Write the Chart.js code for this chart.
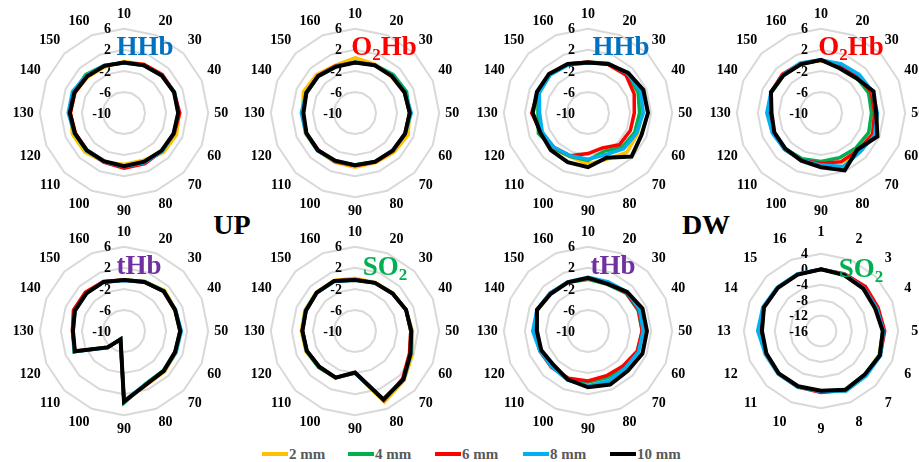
<!DOCTYPE html>
<html>
<head>
<meta charset="utf-8">
<script src="https://cdn.jsdelivr.net/npm/chart.js@4.4.0/dist/chart.umd.min.js"></script>
<style>
  html, body { margin: 0; padding: 0; background: #fff; width: 919px; height: 462px; overflow: hidden; font-family: "Liberation Serif", serif; }
  .panel { position: absolute; width: 232px; height: 214px; }
  .big { position: absolute; font-weight: bold; font-size: 28px; color: #000; transform: translate(-50%, -50%); line-height: 1; }
  .item { position: absolute; top: 445px; display: flex; align-items: center; font-weight: bold; font-size: 15px; color: #595959; height: 18px; }
  .item i { display: inline-block; width: 26px; height: 4px; margin-right: 1px; }
</style>
</head>
<body>
<div class="big" style="left:232px; top:225px;">UP</div>
<div class="big" style="left:706px; top:225px;">DW</div>
<script>
// spoke labels
const angleLabels = ['10', '20', '30', '40', '50', '60', '70', '80', '90', '100', '110', '120', '130', '140', '150', '160'];
const so2Labels = ['1', '2', '3', '4', '5', '6', '7', '8', '9', '10', '11', '12', '13', '14', '15', '16'];

// radial axis ranges (min, max, step)
const mainAxis = [-10, 6, 4];
const so2Axis = [-16, 4, 4];

const seriesNames = ['2 mm', '4 mm', '6 mm', '8 mm', '10 mm'];
const seriesColors = ['#FFC000', '#00B050', '#FF0000', '#00B0F0', '#000000'];

// UP - HHb
const upHHb2  = [-0.2, 0, 0.2, 0.3, 0.5, 0.8, 0.6, -0.3, -0.2, 0, 0.5, 0.6, 0.2, 0.1, -0.3, -0.5];
const upHHb4  = [-0.4, -0.2, 0.2, 0.4, 0.4, 0.3, 0.2, 0.1, 0.1, 0, 0.1, 0.1, 0.3, 0.3, 0.3, -0.2];
const upHHb6  = [-0.4, 0, 0.3, 0.3, 0.6, 0.3, 0.2, 0.4, 0.5, 0.1, 0, 0, 0.2, 0.1, -0.1, -0.3];
const upHHb8  = [-0.5, -0.2, 0.1, 0.3, 0.3, 0.2, 0.3, 0.2, 0.2, 0, 0.1, 0.2, 0.6, 0.6, 0.1, -0.2];
const upHHb10 = [-0.4, -0.2, 0.1, 0.3, 0.3, 0.2, 0.1, 0, 0.1, -0.1, 0, 0.1, 0.3, 0.2, -0.1, -0.3];

// UP - O2Hb
const upO2Hb2  = [0.5, 0, -0.2, 0.3, 0.4, 0.9, 0.5, 0.2, 0.3, 0.1, 0.1, 0.2, 0, 0.6, 0.3, -0.2];
const upO2Hb4  = [-0.3, -0.1, 0.3, 0.6, 0.4, 0.3, 0.2, 0, -0.1, -0.1, 0, 0, 0, 0.1, -0.1, -0.4];
const upO2Hb6  = [-0.4, -0.1, 0, 0.2, 0.4, 0.3, 0.2, 0.1, 0, 0, -0.1, 0, -0.1, 0, 0, -0.3];
const upO2Hb8  = [-0.4, -0.2, 0, 0.3, 0.7, 0.3, 0.1, 0, -0.1, -0.1, 0.1, 0.1, 0.2, 0, -0.1, -0.4];
const upO2Hb10 = [-0.4, -0.2, -0.1, 0.2, 0.4, 0.3, 0.1, 0, -0.1, -0.2, 0, 0, -0.2, 0, -0.1, -0.5];

// DW - HHb
const dwHHb2  = [-0.4, 0.1, 0.5, 0.6, 0.3, 0.2, 0.5, -0.5, -0.3, -1.0, -0.5, -0.3, -0.6, 0.2, 0.3, 0];
const dwHHb4  = [-0.3, 0.2, 0.5, 0.3, -0.2, -0.4, -0.8, -2.1, -1.0, -1.1, -0.6, 0.2, -0.5, 0.3, 0.3, 0];
const dwHHb6  = [-0.3, 0, 0.2, -0.5, -1.2, -1.3, -1.5, -2.8, -2.3, -1.2, -0.8, -0.4, 0.7, 0.3, 0.4, 0.1];
const dwHHb8  = [-0.5, 0.2, 0.6, 0.8, 0.5, 0, -0.4, -1.4, -1.2, -1.2, -0.8, -0.6, -0.8, 0, 0.2, -0.1];
const dwHHb10 = [-0.4, 0.1, 0.8, 1.4, 1.4, 1.0, 1.7, -0.8, 0.3, 0.1, 0, -0.2, 0.5, 0.5, 0.5, 0.1];

// DW - O2Hb
const dwO2Hb2  = [0, -0.6, -0.5, 0.3, 0.3, 0.5, 0.2, 0.2, -0.4, -0.5, -0.3, -0.2, -0.3, 0.2, 0.1, 0];
const dwO2Hb4  = [0, -0.4, -0.4, -0.2, -0.4, -0.2, -0.6, -0.8, -0.8, -0.6, -0.4, -0.3, -0.3, 0.2, 0.1, 0.1];
const dwO2Hb6  = [0, -0.3, -0.1, 0.3, 0.2, 0.6, 0, 0, -0.4, -0.3, -0.2, -0.2, -0.3, 0.3, 0.4, 0.2];
const dwO2Hb8  = [0.1, 0.1, 0.3, 0.6, 0.7, 1.0, 0.5, 1.0, -0.1, -0.3, -0.2, 0, 0.3, 0.3, 0.2, 0.3];
const dwO2Hb10 = [0.1, -0.8, -0.6, 0.8, 0.5, 1.6, -0.2, 1.8, 0.3, -0.2, -0.4, -0.4, -0.6, 0.3, 0.1, 0];

// UP - tHb
const upTHb2  = [-0.3, 0.2, 0.9, 0.6, 0.7, 0.7, 0.9, 1.1, 3.3, -8.3, -5.6, 0.1, -0.2, 0.3, 0.3, 0.1];
const upTHb4  = [-0.3, 0.2, 0.7, 0.5, 0.6, 0.5, 0.6, 0.8, 3.7, -8.3, -5.7, 0.3, -0.3, 0.1, 0.1, 0.1];
const upTHb6  = [-0.3, 0.1, 0.6, 0.5, 0.7, 0.5, 0.7, 1.0, 3.4, -8.2, -5.6, 0.1, -0.2, 0.4, 0.4, 0.2];
const upTHb8  = [-0.4, 0.1, 0.7, 0.6, 0.9, 0.7, 0.7, 0.9, 3.3, -8.3, -5.5, 0.2, -0.3, 0.1, 0.1, 0.1];
const upTHb10 = [-0.3, 0.1, 0.7, 0.5, 0.7, 0.5, 0.7, 1.0, 3.4, -8.3, -5.6, 0.1, -0.3, 0.1, 0.1, 0.1];

// UP - SO2
const upSO2_2  = [0, 0, 0.2, 0.5, 0.9, 1.8, 3.2, 4.6, -2.0, -0.3, -0.3, 0.1, 0.2, 0.3, 0.4, 0.4];
const upSO2_4  = [-0.3, -0.1, 0.1, 0.5, 0.6, 1.3, 3.0, 4.0, -2.1, -0.4, -0.2, 0, 0, 0.1, 0.3, 0.3];
const upSO2_6  = [-0.2, -0.1, 0.1, 0.5, 0.6, 1.2, 2.8, 4.3, -2.1, -0.4, -0.4, -0.1, 0, 0.1, 0.3, 0.3];
const upSO2_8  = [-0.3, -0.1, 0.1, 0.5, 0.7, 1.5, 3.1, 4.1, -2.0, -0.4, -0.4, -0.1, 0, 0.2, 0.3, 0.2];
const upSO2_10 = [-0.3, -0.1, 0.1, 0.5, 0.7, 1.4, 3.0, 4.1, -2.1, -0.4, -0.4, -0.1, 0, 0.1, 0.3, 0.3];

// DW - tHb
const dwTHb2  = [0, -0.2, 0.3, 0.5, 0.4, 0.3, -0.2, -0.4, -0.3, -0.2, -0.4, -0.2, 0, 0.4, 0.1, 0];
const dwTHb4  = [-0.2, -0.4, 0.2, 0.3, 0.3, 0.2, -0.3, -0.4, -0.3, -0.1, -0.4, -0.2, 0, 0.4, 0.1, 0];
const dwTHb6  = [0, -0.2, 0.3, 0.4, 0.3, 0.1, -0.6, -0.8, -0.5, -0.3, -0.2, -0.1, 0.1, 0.5, 0.2, 0];
const dwTHb8  = [0.2, 0.1, 0.5, 0.6, 0.5, 0.4, 0, 0.3, 0.4, 0.1, -0.3, -0.1, 0.5, 0.5, 0.2, 0.1];
const dwTHb10 = [0.1, -0.3, 0.5, 1.2, 1.2, 1.2, 0.7, 1.0, 0.7, 0, -0.8, -0.4, -0.3, 0.5, 0, 0];

// DW - SO2
const dwSO2_2  = [0, -0.2, -0.4, -0.5, 0.1, 0.3, 0.2, 0.9, -0.4, -0.4, -0.4, -0.6, -0.6, 0, -0.1, -0.1];
const dwSO2_4  = [0, -0.2, -0.4, -0.6, 0, 0.4, 0, 0.5, -0.4, -0.4, -0.4, -0.6, -0.6, 0, -0.1, -0.2];
const dwSO2_6  = [0, 0, 0.3, 0, 0.5, 0.6, 0.2, 0.6, -0.1, -0.3, -0.4, -0.5, -0.5, 0.1, -0.1, -0.1];
const dwSO2_8  = [0, -0.1, -0.3, -0.4, 0.2, 0.7, 0.5, 0.8, -0.3, -0.3, -0.3, -0.4, 0.4, 0.3, 0, 0];
const dwSO2_10 = [0, -0.3, -0.5, -0.8, 0, 0.5, 0, 0.5, -0.5, -0.5, -0.5, -0.7, -0.7, 0, -0.2, -0.2];

const panels = [
  { cx: 121, cy: 114, labels: angleLabels, axis: mainAxis, data: [upHHb2, upHHb4, upHHb6, upHHb8, upHHb10],
    title: [['HHb', 0]], color: '#0070C0', dx: 21, dy: -65 },
  { cx: 352, cy: 114, labels: angleLabels, axis: mainAxis, data: [upO2Hb2, upO2Hb4, upO2Hb6, upO2Hb8, upO2Hb10],
    title: [['O', 0], ['2', 1], ['Hb', 0]], color: '#FF0000', dx: 29, dy: -65 },
  { cx: 585, cy: 114, labels: angleLabels, axis: mainAxis, data: [dwHHb2, dwHHb4, dwHHb6, dwHHb8, dwHHb10],
    title: [['HHb', 0]], color: '#0070C0', dx: 33, dy: -65 },
  { cx: 818, cy: 114, labels: angleLabels, axis: mainAxis, data: [dwO2Hb2, dwO2Hb4, dwO2Hb6, dwO2Hb8, dwO2Hb10],
    title: [['O', 0], ['2', 1], ['Hb', 0]], color: '#FF0000', dx: 30, dy: -65 },
  { cx: 121, cy: 332, labels: angleLabels, axis: mainAxis, data: [upTHb2, upTHb4, upTHb6, upTHb8, upTHb10],
    title: [['tHb', 0]], color: '#7030A0', dx: 15, dy: -64 },
  { cx: 352, cy: 332, labels: angleLabels, axis: mainAxis, data: [upSO2_2, upSO2_4, upSO2_6, upSO2_8, upSO2_10],
    title: [['SO', 0], ['2', 1]], color: '#00B050', dx: 30, dy: -63 },
  { cx: 585, cy: 332, labels: angleLabels, axis: mainAxis, data: [dwTHb2, dwTHb4, dwTHb6, dwTHb8, dwTHb10],
    title: [['tHb', 0]], color: '#7030A0', dx: 25, dy: -64 },
  { cx: 818, cy: 332, labels: so2Labels, axis: so2Axis, data: [dwSO2_2, dwSO2_4, dwSO2_6, dwSO2_8, dwSO2_10],
    title: [['SO', 0], ['2', 1]], color: '#00B050', dx: 40, dy: -61, labelPad: 13 }
];

const serif = '"Liberation Serif", "Times New Roman", serif';

// value labels drawn left of the vertical axis, like the original
const tickLabels = {
  id: 'tickLabels',
  beforeDatasetsDraw(chart) {
    const s = chart.scales.r;
    const ctx = chart.ctx;
    ctx.save();
    ctx.font = 'bold 14px ' + serif;
    ctx.fillStyle = '#000';
    ctx.textAlign = 'right';
    ctx.textBaseline = 'middle';
    s.ticks.forEach(t => {
      const p = s.getPointPositionForValue(0, t.value);
      ctx.fillText(t.label, s.xCenter - 13, p.y + 1);
    });
    ctx.restore();
  }
};

// coloured panel title with subscript
const panelTitle = {
  id: 'panelTitle',
  afterDraw(chart, args, opts) {
    if (!opts.parts) return;
    const s = chart.scales.r;
    const ctx = chart.ctx;
    const big = 'bold 27px ' + serif, small = 'bold 17px ' + serif;
    ctx.save();
    let w = 0;
    opts.parts.forEach(([t, sub]) => { ctx.font = sub ? small : big; w += ctx.measureText(t).width; });
    let x = s.xCenter + opts.dx - w / 2;
    const y = s.yCenter + opts.dy;
    ctx.fillStyle = opts.color;
    ctx.textBaseline = 'middle';
    ctx.textAlign = 'left';
    opts.parts.forEach(([t, sub]) => {
      ctx.font = sub ? small : big;
      ctx.fillText(t, x, sub ? y + 8 : y);
      x += ctx.measureText(t).width;
    });
    ctx.restore();
  }
};

panels.forEach(p => {
  const div = document.createElement('div');
  div.className = 'panel';
  div.style.left = (p.cx - 116) + 'px';
  div.style.top = (p.cy - 107) + 'px';
  const canvas = document.createElement('canvas');
  canvas.width = 232;
  canvas.height = 214;
  div.appendChild(canvas);
  document.body.appendChild(div);

  new Chart(canvas.getContext('2d'), {
    type: 'radar',
    data: {
      labels: p.labels,
      datasets: p.data.map((vals, i) => ({
        label: seriesNames[i],
        data: vals,
        borderColor: seriesColors[i],
        backgroundColor: 'transparent',
        borderWidth: i === 4 ? 4 : 3.5,
        pointRadius: 0,
        fill: false,
        tension: 0,
        order: 5 - i
      }))
    },
    options: {
      responsive: false,
      animation: false,
      devicePixelRatio: 1,
      layout: { padding: 0 },
      plugins: {
        legend: { display: false },
        tooltip: { enabled: false },
        panelTitle: { parts: p.title, color: p.color, dx: p.dx, dy: p.dy }
      },
      scales: {
        r: {
          min: p.axis[0],
          max: p.axis[1],
          ticks: { stepSize: p.axis[2], display: false },
          grid: { color: '#D9D9D9', lineWidth: 2 },
          angleLines: { display: false },
          pointLabels: {
            color: '#000',
            padding: p.labelPad || 6,
            font: { family: serif, size: 14, weight: 'bold' }
          }
        }
      }
    },
    plugins: [tickLabels, panelTitle]
  });
});

// legend
const legendLeft = [262, 348, 435, 523, 610];
seriesNames.forEach((name, i) => {
  const item = document.createElement('div');
  item.className = 'item';
  item.style.left = legendLeft[i] + 'px';
  item.innerHTML = '<i style="background:' + seriesColors[i] + '"></i>' + name;
  document.body.appendChild(item);
});
</script>
</body>
</html>
